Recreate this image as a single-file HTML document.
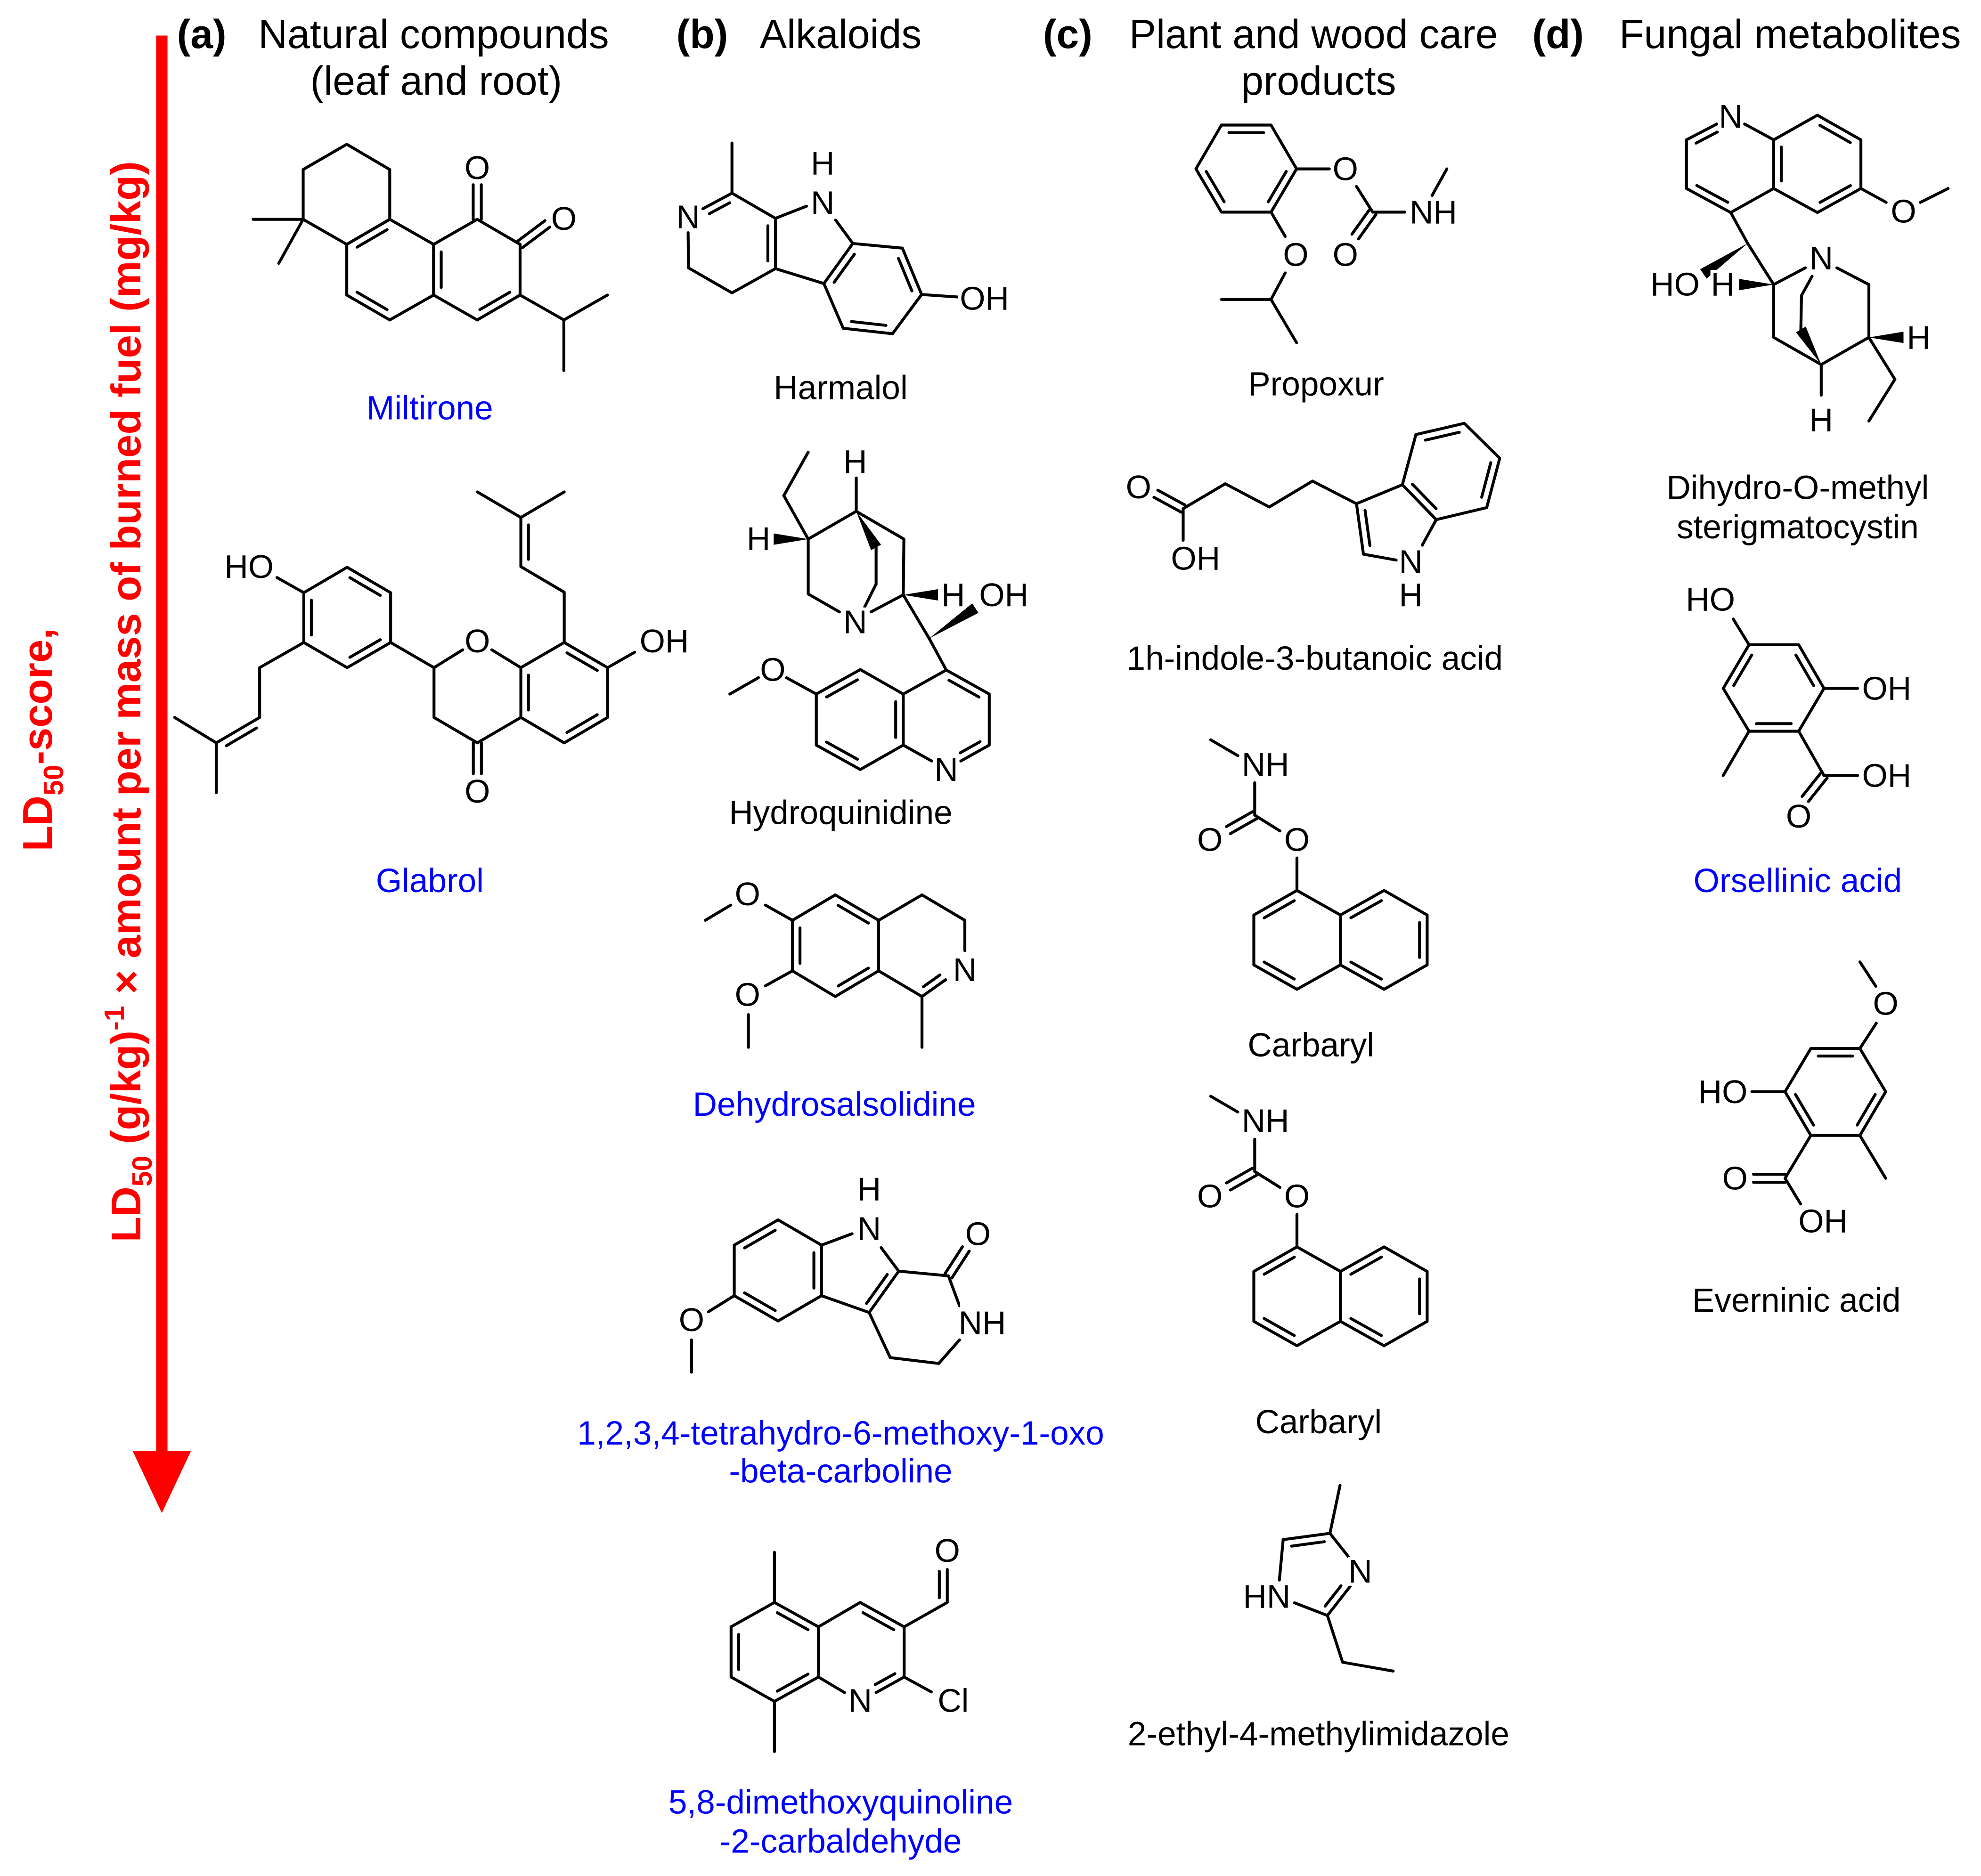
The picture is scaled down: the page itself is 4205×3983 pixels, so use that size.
<!DOCTYPE html>
<html><head><meta charset="utf-8">
<style>
html,body{margin:0;padding:0;background:#fff;}
svg{display:block;}
text{font-family:"Liberation Sans",Arial,sans-serif;}
</style></head>
<body>
<svg id="s" xmlns="http://www.w3.org/2000/svg" width="4205" height="3983" viewBox="0 0 1567 1484">
<rect width="1567" height="1484" fill="#fff"/>
<!-- arrow -->
<line x1="128" y1="28" x2="128" y2="1160" stroke="#f00" stroke-width="9"/>
<polygon points="105,1148 151,1148 128,1197" fill="#f00"/>
<g fill="#f00" font-weight="bold" font-size="33">
<text transform="translate(41,585) rotate(-90)" text-anchor="middle">LD<tspan font-size="22" dy="9">50</tspan><tspan dy="-9">-score,</tspan></text>
<text transform="translate(111,555) rotate(-90)" text-anchor="middle">LD<tspan font-size="22" dy="9">50</tspan><tspan dy="-9"> (g/kg)</tspan><tspan font-size="22" dy="-13">-1</tspan><tspan dy="13"> × amount per mass of burned fuel (mg/kg)</tspan></text>
</g>
<!-- headers -->
<g font-size="32" fill="#000" dominant-baseline="central">
<text x="140" y="27" font-weight="bold">(a)</text>
<text x="343" y="27" text-anchor="middle">Natural compounds</text>
<text x="345" y="64" text-anchor="middle">(leaf and root)</text>
<text x="535" y="27" font-weight="bold">(b)</text>
<text x="665" y="27" text-anchor="middle">Alkaloids</text>
<text x="825" y="27" font-weight="bold">(c)</text>
<text x="1039" y="27" text-anchor="middle">Plant and wood care</text>
<text x="1043" y="64" text-anchor="middle">products</text>
<text x="1212" y="27" font-weight="bold">(d)</text>
<text x="1416" y="27" text-anchor="middle">Fungal metabolites</text>
</g>
<g font-size="26.5" text-anchor="middle" dominant-baseline="central">
<text x="340" y="323" fill="#00f">Miltirone</text>
<text x="340" y="697" fill="#00f">Glabrol</text>
<text x="665" y="307" fill="#000">Harmalol</text>
<text x="665" y="643" fill="#000">Hydroquinidine</text>
<text x="660" y="874" fill="#00f">Dehydrosalsolidine</text>
<text x="665" y="1134" fill="#00f">1,2,3,4-tetrahydro-6-methoxy-1-oxo</text>
<text x="665" y="1164" fill="#00f">-beta-carboline</text>
<text x="665" y="1426" fill="#00f">5,8-dimethoxyquinoline</text>
<text x="665" y="1457" fill="#00f">-2-carbaldehyde</text>
<text x="1041" y="304" fill="#000">Propoxur</text>
<text x="1040" y="521" fill="#000">1h-indole-3-butanoic acid</text>
<text x="1037" y="827" fill="#000">Carbaryl</text>
<text x="1043" y="1125" fill="#000">Carbaryl</text>
<text x="1043" y="1372" fill="#000">2-ethyl-4-methylimidazole</text>
<text x="1422" y="386" fill="#000">Dihydro-O-methyl</text>
<text x="1422" y="417" fill="#000">sterigmatocystin</text>
<text x="1422" y="697" fill="#00f">Orsellinic acid</text>
<text x="1421" y="1029" fill="#000">Everninic acid</text>
</g>
<g id="bonds" stroke="#000" stroke-width="2.3" fill="none" stroke-linecap="round" stroke-linejoin="round"></g>
<g id="wedges" fill="#000"></g>
<g id="atoms" font-size="26" fill="#000" text-anchor="middle" dominant-baseline="central" stroke="#fff" stroke-width="5" paint-order="stroke"></g>
</svg>
<script>
var B=[],Wd=[],A=[];
function L(a,b,c,d){B.push('<line x1="'+a+'" y1="'+b+'" x2="'+c+'" y2="'+d+'"/>');}
function PL(p){B.push('<polyline points="'+p.join(' ')+'"/>');}
function R(p){B.push('<polygon points="'+p.join(' ')+'"/>');}
function In(a,b,c,d,cx,cy){var mx=(a+c)/2,my=(b+d)/2,dx=cx-mx,dy=cy-my,l=Math.hypot(dx,dy);var ox=dx/l*6,oy=dy/l*6;var k=0.15;L(a+(c-a)*k+ox,b+(d-b)*k+oy,c-(c-a)*k+ox,d-(d-b)*k+oy);}
function DD(a,b,c,d){var dx=c-a,dy=d-b,l=Math.hypot(dx,dy),ox=-dy/l*3.2,oy=dx/l*3.2;L(a+ox,b+oy,c+ox,d+oy);L(a-ox,b-oy,c-ox,d-oy);}
function W(a,b,c,d){var dx=c-a,dy=d-b,l=Math.hypot(dx,dy),ox=-dy/l*4.5,oy=dx/l*4.5;Wd.push('<polygon points="'+a+','+b+' '+(c+ox)+','+(d+oy)+' '+(c-ox)+','+(d-oy)+'"/>');}
function T(x,y,t,an){A.push('<text x="'+x+'" y="'+y+'"'+(an?' text-anchor="'+an+'"':'')+'>'+t+'</text>');}

/* Miltirone */
R([274.3,114,308.3,134,308.3,173.4,274.3,193.2,239.8,173.4,239.8,134]);
R([274.3,193.2,308.3,173.4,343,193.2,343,233.3,308.3,253,274.3,233.3]);
R([343,193.2,377.5,173.4,411.4,193.2,411.4,233.3,377.5,253,343,233.3]);
In(274.3,193.2,308.3,173.4,308.6,213);In(274.3,233.3,308.3,253,308.6,213);
In(343,193.2,343,233.3,377,213);In(377.5,253,411.4,233.3,377,213);
L(239.8,173.4,200.2,173.4);L(239.8,173.4,220.5,208.2);
DD(377.5,173.4,377.5,146);T(377.5,132.6,'O');
DD(411.4,193.2,433,177);T(446,172.7,'O');
L(411.4,233.3,446,253);L(446,253,480.5,233.3);L(446,253,446,293);

/* Glabrol */
R([240.3,468.8,274.6,448.7,309,468.8,309,508.2,274.6,528.1,240.3,508.2]);
In(240.3,468.8,240.3,508.2,274.6,488.5);In(274.6,448.7,309,468.8,274.6,488.5);In(274.6,528.1,309,508.2,274.6,488.5);
L(219.1,456.8,240.3,468.8);T(197,448.2,'HO');
PL([240.3,508.2,205.4,528.1,205.4,567.5,171.1,587.6]);In(205.4,567.5,171.1,587.6,200,600);
L(171.1,587.6,138.1,567.5);L(171.1,587.6,171.1,627);
L(309,508.2,343.3,528.1);L(343.3,528.1,366,514);L(389,514,412,528.1);T(377.6,507,'O');
PL([343.3,528.1,343.3,567.5,377.6,587.6,412,567.5]);
DD(377.6,587.6,377.6,612);T(377.6,626,'O');
R([412,528.1,446.3,508.2,480.6,528.1,480.6,567.5,446.3,587.6,412,567.5]);
In(412,528.1,412,567.5,446.3,548);In(446.3,508.2,480.6,528.1,446.3,548);In(480.6,567.5,446.3,587.6,446.3,548);
L(480.6,528.1,502,515.9);T(525.4,507,'OH');
PL([446.3,508.2,446.3,468.4,412,448.2,412,409.3]);In(412,448.2,412,409.3,440,429);
L(412,409.3,377.6,389.1);L(412,409.3,446.3,389.1);

/* Harmalol */
L(579,152.7,579,113);L(579,152.7,556,165);In(579,152.7,556,165,575,185);
L(544.3,184,544.6,211.8);PL([544.6,211.8,579,231.6,613.4,212.4,613.4,172.6,579,152.7]);
In(613.4,212.4,613.4,172.6,579,192);
L(613.4,172.6,638,163);L(661,174,674.6,192.5);T(544.3,171.4,'N');T(650.7,160.2,'N');T(650.7,129,'H');
L(674.6,192.5,651.7,224.2);In(674.6,192.5,651.7,224.2,690,230);L(651.7,224.2,613.4,212.4);
PL([674.6,192.5,713.8,196.2,729,232.9,706,263.9,667,259.6,651.7,224.2]);
In(713.8,196.2,729,232.9,690,230);In(706,263.9,667,259.6,690,230);
L(729,232.9,760,235);T(778.7,236,'OH');

/* Hydroquinidine */
W(639.3,426.4,612,426.4);T(600,426,'H');
L(639.3,426.4,620,392);L(620,392,639.3,357.6);
L(639.3,426.4,677.3,404.4);L(677.3,404.4,677.3,378);T(676.5,365,'H');
L(677.3,404.4,715,426.4);L(715,426.4,714.5,470.5);
W(677.3,404.4,693,433);L(693,433,693,462);L(693,462,684,480);
L(639.3,426.4,639.3,469.8);L(639.3,469.8,664,484);T(676.5,492,'N');L(689,484,714.5,470.5);
W(714.5,470.5,742,470.5);T(754,470.5,'H');T(794,470.5,'OH');
L(714.5,470.5,735,505);W(735,505,771.5,481);L(735,505,748.5,530);
R([645.7,549,680.5,529.6,714.5,549,714.5,589.4,680.5,608.7,645.7,589.4]);
In(645.7,549,680.5,529.6,680,569);In(714.5,549,714.5,589.4,680,569);In(645.7,589.4,680.5,608.7,680,569);
PL([714.5,549,748.5,530,782.5,549,782.5,589.4,760,602]);L(737,602,714.5,589.4);T(748.5,608.7,'N');
In(748.5,530,782.5,549,748.5,569);In(782.5,589.4,760,602,748.5,569);
L(645.7,549,622,536);T(611.3,529.6,'O');L(600,536,577.3,549);

/* Dehydrosalsolidine */
R([660.7,707.9,695,728,695,768,660.7,788.3,626.8,768,626.8,728]);
In(660.7,707.9,695,728,661,748);In(626.8,728,626.8,768,661,748);In(695,768,660.7,788.3,661,748);
PL([695,728,729.3,707.9,763.2,728,763.2,752]);L(748,775,729.3,788.3);In(748,775,729.3,788.3,729,748);L(729.3,788.3,695,768);
T(763.2,767.2,'N');L(729.3,788.3,729.3,828.5);
L(626.8,728,605.5,716);T(591.3,707.2,'O');L(578,716,557.9,728);
L(626.8,768,605.5,779.8);T(591.3,786.8,'O');L(592,802.6,592,828.5);

/* beta-carboline */
R([615.5,965,649.8,985,649.8,1025,615.5,1045,580.8,1025,580.8,985]);
In(615.5,965,580.8,985,615,1005);In(649.8,985,649.8,1025,615,1005);In(580.8,1025,615.5,1045,615,1005);
L(649.8,985,674,976);T(687.5,972,'N');T(687.5,940.7,'H');
L(697,987,710.9,1005.6);L(710.9,1005.6,687.5,1038.3);In(710.9,1005.6,687.5,1038.3,670,1010);L(687.5,1038.3,649.8,1025);
L(710.9,1005.6,750.2,1009.3);DD(750.2,1009.3,764,988);T(773.6,976,'O');
L(750.2,1009.3,759,1033);T(777,1046.5,'NH');L(759,1060,742.6,1078.6);L(742.6,1078.6,704.2,1074);L(704.2,1074,687.5,1038.3);
L(580.8,1025,560.4,1037.7);T(547,1044,'O');L(547,1060,547,1085.5);

/* quinoline aldehyde */
R([612.6,1267.7,647.4,1287,647.4,1326.7,612.6,1346,578.3,1326.7,578.3,1287]);
In(612.6,1267.7,647.4,1287,613,1307);In(578.3,1287,578.3,1326.7,613,1307);In(647.4,1326.7,612.6,1346,613,1307);
PL([647.4,1287,680.4,1267.7,715.2,1287,715.2,1326.7,693,1339]);L(668,1339,647.4,1326.7);T(680.4,1345.3,'N');
In(680.4,1267.7,715.2,1287,681,1307);In(715.2,1326.7,693,1339,681,1307);
L(715.2,1326.7,736.7,1338.5);T(754,1345.3,'Cl');
L(715.2,1287,749.3,1267.7);
L(749.3,1267.7,749.3,1241.6);L(743,1264,743,1243);T(749.3,1226.7,'O');
L(612.6,1267.7,612.6,1228);L(612.6,1346,612.6,1385.7);

/* Propoxur */
R([966.2,98.8,1005.4,98.8,1025.6,133.5,1005.4,167.7,966.2,167.7,946,133.5]);
In(966.2,98.8,1005.4,98.8,986,133);In(946,133.5,966.2,167.7,986,133);In(1025.6,133.5,1005.4,167.7,986,133);
L(1025.6,133.5,1051.5,133.5);T(1064.2,133.5,'O');L(1073,147.4,1085.8,167.7);
DD(1085.8,167.7,1072,187);T(1064.2,201.3,'O');
L(1085.8,167.7,1111.2,167.7);T(1133.8,167.7,'NH');L(1132.8,154.5,1144.5,133.5);
L(1005.4,167.7,1016.6,186.9);T(1025,201.3,'O');L(1016.6,215.8,1005.4,236.8);
L(1005.4,236.8,966.2,236.8);L(1005.4,236.8,1025.6,271);

/* Indole-3-butanoic acid */
T(900.6,385.2,'O');DD(914.3,390.5,935.9,402.3);L(935.9,402.3,935.9,427.3);T(945.7,441.7,'OH');
PL([935.9,402.3,969.2,382.6,1004,401,1038.2,380.5,1073,398.4]);
L(1073,398.4,1078.5,438.3);In(1073,398.4,1078.5,438.3,1100,415);L(1078.5,438.3,1104.4,443);
T(1116,444.3,'N');T(1116,470.6,'H');L(1125,431.2,1136.1,411);
L(1136.1,411,1109.3,383.4);L(1109.3,383.4,1073,398.4);
PL([1109.3,383.4,1120,343.7,1158.3,334.8,1186.3,362.4,1176,401.5,1136.1,411]);
In(1136.1,411,1109.3,383.4,1148,368);In(1120,343.7,1158.3,334.8,1148,368);In(1186.3,362.4,1176,401.5,1148,368);

/* Carbaryl x2 */
function carb(o){
L(957.7,585.2+o,979.1,597.7+o);T(1001,604.6+o,'NH');L(992.5,619.2+o,992.5,644.8+o);
DD(992.5,644.8+o,971.7,656.6+o);T(957,664.2+o,'O');
L(992.5,644.8+o,1012.5,657.3+o);T(1025.9,664.2+o,'O');L(1025.9,678.7+o,1025.9,704.4+o);
R([1025.9,704.4+o,1060.3,723.8+o,1060.3,763.3+o,1025.9,782.6+o,991.8,763.3+o,991.8,723.8+o]);
PL([1060.3,723.8+o,1094.8,704.4+o,1128.9,723.8+o,1128.9,763.3+o,1094.8,782.6+o,1060.3,763.3+o]);
var c1=743.5+o;In(1025.9,704.4+o,991.8,723.8+o,1026,c1);In(991.8,763.3+o,1025.9,782.6+o,1026,c1);
In(1060.3,723.8+o,1094.8,704.4+o,1095,c1);In(1128.9,723.8+o,1128.9,763.3+o,1095,c1);In(1094.8,782.6+o,1060.3,763.3+o,1095,c1);
}
carb(0);carb(282);

/* Imidazole */
L(1015,1218,1052,1213);In(1015,1218,1052,1213,1040,1250);
L(1052,1213,1067,1232);T(1076,1243,'N');L(1068,1255,1050,1278);In(1068,1255,1050,1278,1040,1250);
L(1050,1278,1024,1268);T(1002,1263,'HN');L(1012,1250,1015,1218);
L(1052,1213,1060,1175);L(1050,1278,1062,1315);L(1062,1315,1102,1322);

/* Quinine-type (d) */
PL([1334,110.5,1358,98]);In(1334,110.5,1358,98,1368,129);T(1369,92,'N');
PL([1380,98,1403,110.5,1437.6,91,1472,110.5,1472,149,1437.6,168,1403,149,1369,168,1334,149,1334,110.5]);
L(1403,110.5,1403,149);In(1403,110.5,1403,149,1437,129);In(1437.6,91,1472,110.5,1437,129);In(1472,149,1437.6,168,1437,129);
In(1334,149,1369,168,1368,129);
L(1472,149,1492,160);T(1505.7,167,'O');L(1519,160,1541,149);
L(1369,168,1382.4,192.4);W(1382.4,192.4,1347.4,216.6);L(1382.4,192.4,1403,225);
T(1325,224.7,'HO');T(1362.7,224.7,'H');W(1403,225,1375.7,225);
L(1403,225,1428,211.8);T(1440.6,204,'N');L(1453,211.8,1478.3,225);L(1478.3,225,1478.3,266.8);
L(1478.3,266.8,1440.6,288.3);L(1403,225,1403,266.8);L(1403,266.8,1440.6,288.3);
L(1433.4,218.4,1425,233.7);L(1425,233.7,1424.5,260.5);W(1440.6,288.3,1424.5,260.5);
L(1440.6,288.3,1440.6,312.5);T(1440.6,332,'H');
W(1478.3,266.8,1505.7,266.8);T(1517.7,266.8,'H');
L(1478.3,266.8,1498.9,300);L(1498.9,300,1478.3,333);

/* Orsellinic acid */
R([1383.5,510,1422.8,510,1442.8,544.5,1422.8,578.4,1383.5,578.4,1363.1,544.5]);
In(1383.5,510,1363.1,544.5,1403,544);In(1422.8,510,1442.8,544.5,1403,544);In(1383.5,578.4,1422.8,578.4,1403,544);
L(1371,489.6,1383.5,510);T(1353,474,'HO');
L(1442.8,544.5,1469.4,544.5);T(1492.4,544.5,'OH');
L(1422.8,578.4,1442.8,613.4);L(1442.8,613.4,1469.4,613.4);T(1492.4,613.4,'OH');
DD(1442.8,613.4,1428,632);T(1422.8,645.6,'O');
L(1383.5,578.4,1363.1,613.4);

/* Everninic acid */
R([1432.4,829.4,1471.2,829.4,1491.6,863.6,1471.2,898.2,1432.4,898.2,1412,863.6]);
In(1432.4,829.4,1471.2,829.4,1452,864);In(1491.6,863.6,1471.2,898.2,1452,864);In(1412,863.6,1432.4,898.2,1452,864);
L(1471.2,829.4,1484.2,809.4);T(1491.6,793.8,'O');L(1483.8,780.2,1471.2,760.9);
L(1412,863.6,1385.8,863.6);T(1362.8,863.6,'HO');
L(1432.4,898.2,1412,932.1);DD(1412,932.1,1387,932.1);T(1372.4,932.1,'O');
L(1412,932.1,1424.3,952.4);T(1442,966,'OH');
L(1471.2,898.2,1491.6,932.1);

document.getElementById('bonds').innerHTML=B.join('');
document.getElementById('wedges').innerHTML=Wd.join('');
document.getElementById('atoms').innerHTML=A.join('');
</script>
</body></html>
